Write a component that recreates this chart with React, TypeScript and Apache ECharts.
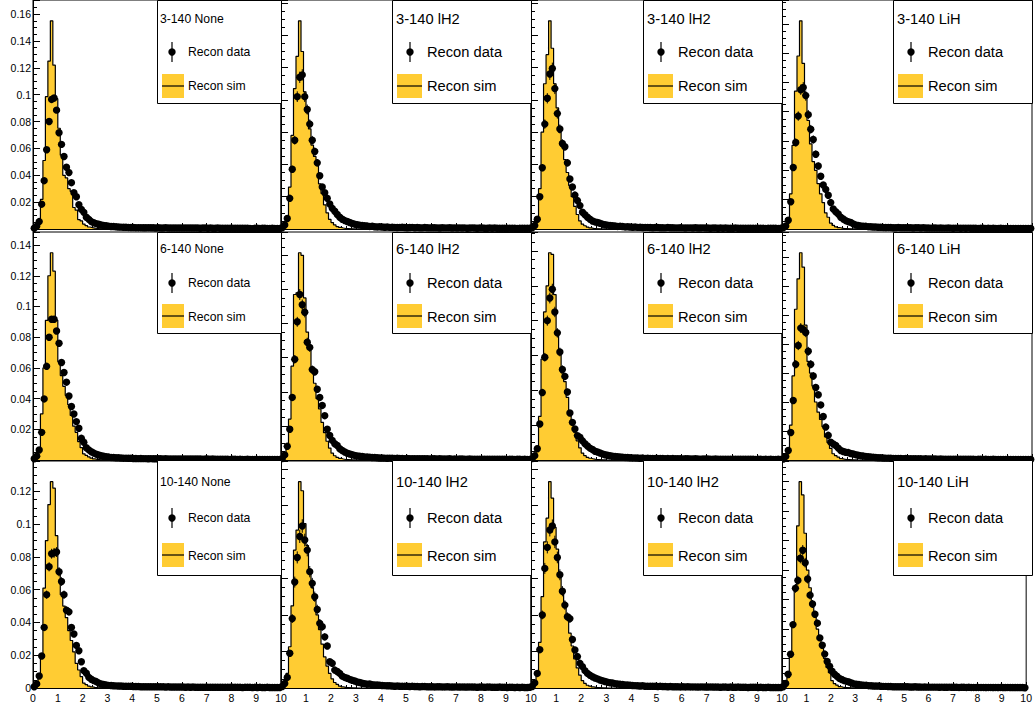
import React, { useEffect, useRef } from "react";
import * as echarts from "echarts";

const FONT = "'Liberation Sans', Arial, Helvetica, sans-serif";
const YELLOW = "#FFCC33";
const binWidth = 0.1;

const xTickLabels = ["0", "1", "2", "3", "4", "5", "6", "7", "8", "9", "10"];
const panelTitles = [
  "3-140 None", "3-140 lH2", "3-140 lH2", "3-140 LiH",
  "6-140 None", "6-140 lH2", "6-140 lH2", "6-140 LiH",
  "10-140 None", "10-140 lH2", "10-140 lH2", "10-140 LiH",
];
const legendData = "Recon data";
const legendSim = "Recon sim";

// ---- simulated histograms (bins of 0.1 from 0), rest of range empty ----
const simR1C1 = [0.0005,0.002,0.007,0.022,0.051,0.0985,0.125,0.155,0.122,0.097,0.075,0.055,0.04,0.038,0.03,0.028,0.016,0.014,0.007,0.006,0.0037,0.0025,0.0015,0.001,0.0006,0.0004,0.0002,0.0001,0,0];
const simR1C2 = [0.0005,0.002,0.008,0.026,0.058,0.087,0.107,0.129,0.11,0.085,0.072,0.062,0.052,0.045,0.04,0.028,0.022,0.015,0.01,0.006,0.004,0.0025,0.0015,0.001,0.0006,0.0003,0.0002,0.0001,0,0];
const simR1C3 = [0.0005,0.002,0.007,0.025,0.06,0.09,0.108,0.129,0.112,0.09,0.075,0.06,0.051,0.043,0.035,0.027,0.02,0.014,0.009,0.005,0.003,0.002,0.0012,0.0007,0.0004,0.0002,0.0001,0,0,0];
const simR1C4 = [0.0005,0.002,0.007,0.024,0.057,0.094,0.118,0.142,0.113,0.092,0.074,0.058,0.046,0.04,0.031,0.024,0.018,0.011,0.008,0.004,0.0025,0.0015,0.001,0.0006,0.0003,0.0002,0.0001,0,0,0];
const simR2C1 = [0.0005,0.002,0.007,0.03,0.06,0.091,0.12,0.135,0.123,0.091,0.064,0.055,0.048,0.042,0.036,0.029,0.022,0.018,0.012,0.008,0.004,0.003,0.002,0.0012,0.0007,0.0004,0.0002,0.0001,0,0];
const simR2C2 = [0.0005,0.002,0.008,0.024,0.055,0.097,0.098,0.1215,0.12,0.095,0.075,0.065,0.052,0.045,0.036,0.03,0.022,0.016,0.011,0.007,0.004,0.0025,0.0015,0.001,0.0006,0.0003,0.0002,0.0001,0,0];
const simR2C3 = [0.0005,0.002,0.008,0.025,0.058,0.085,0.1,0.119,0.118,0.095,0.072,0.062,0.05,0.045,0.036,0.028,0.021,0.016,0.011,0.007,0.004,0.0025,0.0015,0.001,0.0006,0.0003,0.0002,0.0001,0,0];
const simR2C4 = [0.0005,0.002,0.006,0.024,0.058,0.104,0.125,0.143,0.133,0.093,0.068,0.06,0.051,0.04,0.033,0.028,0.023,0.016,0.012,0.008,0.0043,0.003,0.002,0.001,0.0006,0.0003,0.0002,0.0001,0,0];
const simR3C1 = [0.0005,0.002,0.008,0.019,0.061,0.09,0.112,0.126,0.122,0.093,0.072,0.057,0.05,0.043,0.035,0.029,0.022,0.015,0.011,0.007,0.003,0.002,0.0012,0.0007,0.0004,0.0002,0.0001,0,0,0];
const simR3C2 = [0.0005,0.002,0.008,0.0226,0.045,0.0755,0.0865,0.113,0.108,0.09,0.078,0.065,0.055,0.048,0.04,0.032,0.024,0.017,0.012,0.008,0.005,0.003,0.002,0.001,0.0006,0.0003,0.0002,0.0001,0,0];
const simR3C3 = [0.0005,0.002,0.009,0.025,0.05,0.08,0.093,0.113,0.104,0.088,0.076,0.062,0.052,0.046,0.04,0.03,0.023,0.016,0.011,0.007,0.004,0.0025,0.0015,0.001,0.0006,0.0003,0.0002,0.0001,0,0];
const simR3C4 = [0.0005,0.002,0.007,0.022,0.042,0.066,0.11,0.14,0.131,0.105,0.08,0.068,0.058,0.05,0.04,0.033,0.028,0.02,0.014,0.0104,0.005,0.003,0.002,0.001,0.0006,0.0003,0.0002,0.0001,0,0];

// ---- data histograms (100 bins of 0.1 from 0 to 10) ----
const dataR1C1 = [
  0.0005,0.002,0.0055,0.0185,0.036,0.059,0.08,0.0965,0.0975,0.0885,
  0.0717,0.063,0.054,0.046,0.042,0.0345,0.027,0.024,0.018,0.0146,
  0.0124,0.0087,0.0072,0.0055,0.0047,0.004,0.0035,0.003,0.0027,0.0024,
  0.0021,0.0019,0.0018,0.0016,0.0015,0.0014,0.0013,0.0013,0.0012,0.0011,
  0.0011,0.001,0.001,0.001,0.0009,0.0009,0.001,0.0009,0.0009,0.0008,
  0.0009,0.0008,0.0008,0.0009,0.0008,0.0008,0.0007,0.0008,0.0008,0.0007,
  0.0008,0.0007,0.0007,0.0008,0.0007,0.0007,0.0007,0.0006,0.0007,0.0007,
  0.0006,0.0007,0.0006,0.0006,0.0007,0.0006,0.0006,0.0006,0.0005,0.0006,
  0.0006,0.0005,0.0006,0.0005,0.0005,0.0006,0.0005,0.0004,0.0002,0.0005,
  0.0005,0.0004,0.0005,0.0005,0.0004,0.0004,0.0005,0.0004,0.0004,0.0004,
];
const dataR1C2 = [
  0.0008,0.0025,0.0065,0.019,0.037,0.055,0.082,0.094,0.0955,0.082,
  0.074,0.065,0.055,0.048,0.041,0.033,0.026,0.0225,0.019,0.0155,
  0.0128,0.011,0.009,0.0073,0.006,0.0052,0.0046,0.004,0.0034,0.003,
  0.0026,0.0024,0.0021,0.002,0.0018,0.0016,0.0017,0.0014,0.0013,0.0014,
  0.0012,0.0011,0.0012,0.001,0.0011,0.001,0.0009,0.001,0.0011,0.0009,
  0.0008,0.0009,0.001,0.0008,0.0009,0.0008,0.0007,0.0009,0.0008,0.0007,
  0.0008,0.0008,0.0007,0.0006,0.0008,0.0007,0.0007,0.0008,0.0006,0.0007,
  0.0006,0.0007,0.0006,0.0007,0.0005,0.0006,0.0007,0.0006,0.0005,0.0006,
  0.0006,0.0005,0.0005,0.0006,0.0005,0.0006,0.0005,0.0004,0.0005,0.0005,
  0.0004,0.0005,0.0004,0.0005,0.0003,0.0004,0.0005,0.0004,0.0004,0.0005,
];
const dataR1C3 = [
  0.0008,0.0022,0.006,0.02,0.038,0.065,0.081,0.096,0.0995,0.087,
  0.0715,0.062,0.053,0.051,0.041,0.031,0.026,0.021,0.0176,0.0145,
  0.0104,0.0088,0.0073,0.006,0.005,0.0044,0.004,0.0035,0.003,0.0027,
  0.0024,0.0022,0.002,0.0019,0.0016,0.0017,0.0015,0.0013,0.0014,0.0012,
  0.0011,0.0012,0.001,0.0011,0.0009,0.001,0.001,0.0009,0.0008,0.0009,
  0.0009,0.0008,0.0008,0.0007,0.0009,0.0008,0.0008,0.0007,0.0007,0.0008,
  0.0007,0.0006,0.0007,0.0007,0.0006,0.0008,0.0006,0.0006,0.0007,0.0006,
  0.0006,0.0005,0.0006,0.0006,0.0005,0.0006,0.0005,0.0006,0.0005,0.0005,
  0.0005,0.0006,0.0004,0.0005,0.0005,0.0004,0.0005,0.0005,0.0004,0.0004,
  0.0005,0.0004,0.0004,0.0003,0.0004,0.0004,0.0005,0.0004,0.0003,0.0004,
];
const dataR1C4 = [
  0.0008,0.002,0.006,0.0186,0.042,0.059,0.077,0.095,0.0966,0.091,
  0.078,0.068,0.061,0.051,0.043,0.036,0.03,0.027,0.023,0.018,
  0.0136,0.0118,0.0102,0.008,0.0068,0.0057,0.005,0.0045,0.0035,0.0028,
  0.0024,0.0021,0.0019,0.0018,0.0016,0.0015,0.0014,0.0014,0.0012,0.0012,
  0.0011,0.001,0.0011,0.001,0.0009,0.0009,0.001,0.0008,0.0009,0.0008,
  0.0008,0.0009,0.0007,0.0008,0.0008,0.0007,0.0008,0.0007,0.0007,0.0006,
  0.0007,0.0007,0.0006,0.0007,0.0006,0.0006,0.0007,0.0006,0.0005,0.0006,
  0.0006,0.0005,0.0006,0.0005,0.0006,0.0005,0.0005,0.0005,0.0004,0.0005,
  0.0005,0.0004,0.0005,0.0004,0.0005,0.0004,0.0004,0.0005,0.0004,0.0004,
  0.0003,0.0004,0.0004,0.0004,0.0003,0.0004,0.0003,0.0004,0.0003,0.0003,
];
const dataR2C1 = [
  0.0008,0.0025,0.0065,0.018,0.0398,0.061,0.08,0.0917,0.0917,0.084,
  0.076,0.0635,0.057,0.0507,0.0417,0.0348,0.03,0.025,0.0207,0.0141,
  0.0115,0.008,0.0066,0.0054,0.0045,0.0038,0.0033,0.0028,0.0025,0.0022,
  0.0019,0.0017,0.0016,0.0015,0.0014,0.0013,0.0012,0.0012,0.0011,0.0011,
  0.001,0.001,0.0009,0.001,0.0009,0.0009,0.0008,0.0009,0.0008,0.0008,
  0.0008,0.0008,0.0007,0.0008,0.0007,0.0007,0.0007,0.0007,0.0006,0.0007,
  0.0007,0.0006,0.0006,0.0007,0.0006,0.0006,0.0006,0.0006,0.0005,0.0006,
  0.0006,0.0005,0.0006,0.0005,0.0005,0.0005,0.0005,0.0005,0.0005,0.0004,
  0.0005,0.0005,0.0004,0.0005,0.0004,0.0004,0.0005,0.0004,0.0004,0.0004,
  0.0004,0.0004,0.0003,0.0004,0.0004,0.0003,0.0004,0.0003,0.0003,0.0004,
];
const dataR2C2 = [
  0.0008,0.003,0.008,0.018,0.0367,0.059,0.081,0.097,0.091,0.0866,
  0.069,0.066,0.053,0.0517,0.0415,0.0367,0.032,0.026,0.018,0.0144,
  0.0115,0.0095,0.0085,0.0066,0.0056,0.0047,0.004,0.0035,0.0031,0.0027,
  0.0024,0.0022,0.0021,0.0018,0.0017,0.0016,0.0014,0.0015,0.0013,0.0012,
  0.0012,0.0011,0.001,0.0011,0.001,0.0009,0.001,0.0009,0.0009,0.0008,
  0.0009,0.0008,0.0008,0.0007,0.0008,0.0008,0.0007,0.0007,0.0008,0.0006,
  0.0007,0.0007,0.0006,0.0007,0.0006,0.0006,0.0006,0.0007,0.0005,0.0006,
  0.0005,0.0006,0.0006,0.0005,0.0005,0.0006,0.0005,0.0004,0.0005,0.0005,
  0.0005,0.0004,0.0005,0.0004,0.0005,0.0004,0.0004,0.0004,0.0005,0.0004,
  0.0003,0.0004,0.0004,0.0003,0.0004,0.0004,0.0003,0.0004,0.0003,0.0003,
];
const dataR2C3 = [
  0.0008,0.0025,0.0065,0.0207,0.0387,0.059,0.08,0.093,0.098,0.085,
  0.073,0.062,0.052,0.048,0.039,0.027,0.0216,0.0178,0.014,0.013,
  0.011,0.0093,0.008,0.0068,0.006,0.005,0.0046,0.004,0.0035,0.003,
  0.0027,0.0024,0.0022,0.002,0.0019,0.0017,0.0016,0.0015,0.0014,0.0013,
  0.0012,0.0012,0.0011,0.001,0.0011,0.0009,0.001,0.0009,0.0009,0.0009,
  0.0008,0.0008,0.0009,0.0007,0.0008,0.0007,0.0008,0.0007,0.0007,0.0007,
  0.0006,0.0007,0.0007,0.0006,0.0006,0.0007,0.0006,0.0005,0.0006,0.0006,
  0.0006,0.0005,0.0005,0.0006,0.0005,0.0005,0.0005,0.0005,0.0004,0.0005,
  0.0005,0.0004,0.0004,0.0005,0.0004,0.0004,0.0005,0.0004,0.0004,0.0003,
  0.0004,0.0004,0.0003,0.0004,0.0003,0.0004,0.0003,0.0003,0.0004,0.0003,
];
const dataR2C4 = [
  0.0007,0.0025,0.0066,0.019,0.041,0.066,0.079,0.091,0.09,0.088,
  0.075,0.066,0.058,0.05,0.045,0.038,0.03,0.0227,0.017,0.0123,
  0.011,0.01,0.0082,0.0066,0.0059,0.0054,0.0051,0.0045,0.0041,0.0037,
  0.0033,0.003,0.0027,0.0025,0.0022,0.002,0.0019,0.0017,0.0016,0.0015,
  0.0014,0.0013,0.0013,0.0012,0.0011,0.0011,0.001,0.001,0.0009,0.001,
  0.0009,0.0008,0.0009,0.0008,0.0008,0.0008,0.0007,0.0008,0.0007,0.0007,
  0.0007,0.0007,0.0006,0.0007,0.0006,0.0006,0.0006,0.0006,0.0006,0.0005,
  0.0006,0.0005,0.0005,0.0006,0.0005,0.0005,0.0005,0.0004,0.0005,0.0005,
  0.0004,0.0005,0.0004,0.0004,0.0005,0.0004,0.0004,0.0004,0.0004,0.0003,
  0.0004,0.0004,0.0003,0.0004,0.0003,0.0003,0.0004,0.0003,0.0003,0.0003,
];
const dataR3C1 = [
  0.0008,0.0025,0.0073,0.0195,0.037,0.057,0.074,0.082,0.0825,0.083,
  0.071,0.065,0.057,0.0475,0.0465,0.037,0.033,0.026,0.0227,0.016,
  0.0106,0.009,0.0065,0.0053,0.0045,0.0039,0.003,0.0024,0.0021,0.0018,
  0.0016,0.0015,0.0014,0.0013,0.0012,0.0012,0.0011,0.001,0.001,0.001,
  0.0009,0.0009,0.0009,0.0008,0.0008,0.0008,0.0008,0.0007,0.0008,0.0007,
  0.0007,0.0007,0.0007,0.0006,0.0007,0.0006,0.0006,0.0006,0.0006,0.0006,
  0.0006,0.0005,0.0006,0.0005,0.0006,0.0005,0.0005,0.0005,0.0005,0.0005,
  0.0005,0.0004,0.0005,0.0005,0.0004,0.0005,0.0004,0.0004,0.0004,0.0005,
  0.0004,0.0004,0.0004,0.0004,0.0003,0.0004,0.0004,0.0004,0.0003,0.0004,
  0.0003,0.0004,0.0003,0.0003,0.0004,0.0003,0.0003,0.0003,0.0003,0.0003,
];
const dataR3C2 = [
  0.0008,0.0025,0.0058,0.019,0.038,0.058,0.0715,0.083,0.0887,0.081,
  0.0755,0.0637,0.0573,0.05,0.043,0.0354,0.0336,0.028,0.023,0.0144,
  0.0135,0.0098,0.009,0.008,0.0065,0.0058,0.0053,0.0047,0.0042,0.0038,
  0.0033,0.003,0.0026,0.0024,0.0021,0.0022,0.0018,0.0017,0.0016,0.0015,
  0.0014,0.0013,0.0012,0.0012,0.0011,0.001,0.0011,0.001,0.0009,0.0009,
  0.001,0.0008,0.0009,0.0008,0.0008,0.0007,0.0008,0.0008,0.0007,0.0007,
  0.0007,0.0006,0.0007,0.0007,0.0006,0.0006,0.0007,0.0006,0.0005,0.0006,
  0.0006,0.0005,0.0006,0.0005,0.0005,0.0006,0.0005,0.0005,0.0004,0.0005,
  0.0005,0.0004,0.0005,0.0005,0.0004,0.0004,0.0004,0.0005,0.0004,0.0004,
  0.0003,0.0004,0.0004,0.0003,0.0004,0.0003,0.0004,0.0003,0.0003,0.0004,
];
const dataR3C3 = [
  0.0008,0.0028,0.008,0.021,0.04,0.0655,0.077,0.0865,0.0887,0.08,
  0.0715,0.062,0.053,0.0454,0.039,0.038,0.0266,0.0208,0.0172,0.0135,
  0.0117,0.0095,0.008,0.007,0.0062,0.0055,0.005,0.0044,0.004,0.0036,
  0.0032,0.0029,0.0027,0.0024,0.0022,0.002,0.0019,0.0017,0.0016,0.0015,
  0.0014,0.0013,0.0012,0.0011,0.0012,0.001,0.001,0.0009,0.001,0.0009,
  0.0008,0.0009,0.0008,0.0008,0.0007,0.0008,0.0007,0.0007,0.0007,0.0006,
  0.0007,0.0006,0.0007,0.0006,0.0006,0.0006,0.0005,0.0006,0.0006,0.0005,
  0.0005,0.0006,0.0005,0.0005,0.0005,0.0004,0.0005,0.0005,0.0004,0.0005,
  0.0004,0.0004,0.0005,0.0004,0.0004,0.0004,0.0003,0.0004,0.0004,0.0004,
  0.0003,0.0004,0.0003,0.0003,0.0004,0.0003,0.0003,0.0003,0.0003,0.0003,
];
const dataR3C4 = [
  0.0008,0.003,0.0093,0.0229,0.043,0.0676,0.073,0.088,0.0935,0.085,
  0.074,0.063,0.057,0.05,0.044,0.034,0.029,0.023,0.018,0.0147,
  0.0114,0.0093,0.008,0.0065,0.0058,0.005,0.0045,0.004,0.0034,0.0028,
  0.0025,0.0023,0.0021,0.0019,0.0018,0.0016,0.0015,0.0014,0.0013,0.0013,
  0.0012,0.0011,0.0011,0.001,0.001,0.0009,0.0009,0.0009,0.0008,0.0008,
  0.0008,0.0008,0.0007,0.0007,0.0008,0.0007,0.0007,0.0006,0.0007,0.0006,
  0.0006,0.0006,0.0006,0.0006,0.0005,0.0006,0.0005,0.0005,0.0006,0.0005,
  0.0005,0.0005,0.0004,0.0005,0.0005,0.0004,0.0005,0.0004,0.0004,0.0004,
  0.0004,0.0004,0.0004,0.0003,0.0004,0.0004,0.0003,0.0004,0.0003,0.0004,
  0.0003,0.0003,0.0004,0.0003,0.0003,0.0003,0.0003,0.0003,0.0003,0.0002,
];

// ---- statistical errors on data (first 20 bins; smaller ones hidden by markers) ----
const errR1C1 = [0.0002,0.0003,0.0005,0.0009,0.0012,0.0016,0.0018,0.002,0.002,0.0019,0.0017,0.0016,0.0015,0.0014,0.0013,0.0012,0.001,0.0009,0.0008,0.0007];
const errR1C2 = [0.0003,0.0006,0.0009,0.0016,0.0022,0.0027,0.0033,0.0035,0.0035,0.0033,0.0031,0.0029,0.0027,0.0025,0.0023,0.002,0.0018,0.0017,0.0015,0.0014];
const errR1C3 = [0.0003,0.0005,0.0009,0.0016,0.0022,0.0029,0.0032,0.0036,0.0036,0.0034,0.0031,0.0028,0.0026,0.0025,0.0023,0.002,0.0018,0.0016,0.0015,0.0014];
const errR1C4 = [0.0003,0.0005,0.0009,0.0016,0.0024,0.0028,0.0032,0.0035,0.0036,0.0035,0.0032,0.003,0.0028,0.0026,0.0024,0.0022,0.002,0.0019,0.0017,0.0016];
const errR2C1 = [0.0002,0.0004,0.0006,0.001,0.0014,0.0017,0.002,0.0021,0.0021,0.002,0.0019,0.0018,0.0017,0.0016,0.0014,0.0013,0.0012,0.0011,0.001,0.0009];
const errR2C2 = [0.0003,0.0006,0.0009,0.0014,0.002,0.0025,0.0029,0.0032,0.0031,0.003,0.0027,0.0026,0.0023,0.0023,0.002,0.0019,0.0018,0.0016,0.0014,0.0012];
const errR2C3 = [0.0003,0.0005,0.0008,0.0015,0.002,0.0025,0.0029,0.0031,0.0032,0.003,0.0027,0.0025,0.0023,0.0022,0.002,0.0017,0.0015,0.0014,0.0012,0.0011];
const errR2C4 = [0.0003,0.0006,0.001,0.0016,0.0023,0.0029,0.0032,0.0034,0.0034,0.0033,0.0031,0.0029,0.0027,0.0025,0.0023,0.0021,0.0019,0.0017,0.0015,0.0013];
const errR3C1 = [0.0003,0.0005,0.0009,0.0014,0.002,0.0025,0.0028,0.003,0.003,0.003,0.0028,0.0026,0.0025,0.0023,0.0022,0.002,0.0019,0.0017,0.0015,0.0013];
const errR3C2 = [0.0003,0.0006,0.0009,0.0017,0.0024,0.003,0.0033,0.0036,0.0037,0.0035,0.0034,0.0031,0.003,0.0028,0.0026,0.0023,0.0022,0.002,0.0018,0.0015];
const errR3C3 = [0.0003,0.0006,0.001,0.0017,0.0024,0.003,0.0033,0.0035,0.0036,0.0034,0.0032,0.003,0.0028,0.0026,0.0024,0.0024,0.002,0.0018,0.0016,0.0014];
const errR3C4 = [0.0003,0.0006,0.001,0.0017,0.0024,0.003,0.0031,0.0034,0.0035,0.0033,0.0031,0.0029,0.0027,0.0025,0.0024,0.0021,0.0019,0.0017,0.0015,0.0013];

const panels = [
  { title: panelTitles[0], sim: simR1C1, data: dataR1C1, err: errR1C1 },
  { title: panelTitles[1], sim: simR1C2, data: dataR1C2, err: errR1C2 },
  { title: panelTitles[2], sim: simR1C3, data: dataR1C3, err: errR1C3 },
  { title: panelTitles[3], sim: simR1C4, data: dataR1C4, err: errR1C4 },
  { title: panelTitles[4], sim: simR2C1, data: dataR2C1, err: errR2C1 },
  { title: panelTitles[5], sim: simR2C2, data: dataR2C2, err: errR2C2 },
  { title: panelTitles[6], sim: simR2C3, data: dataR2C3, err: errR2C3 },
  { title: panelTitles[7], sim: simR2C4, data: dataR2C4, err: errR2C4 },
  { title: panelTitles[8], sim: simR3C1, data: dataR3C1, err: errR3C1 },
  { title: panelTitles[9], sim: simR3C2, data: dataR3C2, err: errR3C2 },
  { title: panelTitles[10], sim: simR3C3, data: dataR3C3, err: errR3C3 },
  { title: panelTitles[11], sim: simR3C4, data: dataR3C4, err: errR3C4 },
];

// ---- layout (pixels) ----
const colLeft = [33, 281, 531, 782];
const colRight = [281, 531, 782, 1032];
const rowTop = [0, 232, 461];
const rowBottom = [229, 460, 688];
const legendRow = [
  { top: 0, h: 103, title: 19, data: 52, sim: 86, rect: 74 },
  { top: 232, h: 101, title: 17, data: 51, sim: 85, rect: 72 },
  { top: 460, h: 115, title: 22, data: 58, sim: 96, rect: 83 },
];
const MARKER_R = 3.7;

function buildOption() {
  const grid: any[] = [];
  const xAxis: any[] = [];
  const yAxis: any[] = [];
  const series: any[] = [];
  const graphic: any[] = [];

  panels.forEach((p, k) => {
    const r = Math.floor(k / 4);
    const c = k % 4;
    grid.push({
      left: colLeft[c],
      top: rowTop[r],
      width: colRight[c] - colLeft[c],
      height: rowBottom[r] - rowTop[r],
      show: true,
      borderColor: "#000",
      borderWidth: 1,
      backgroundColor: "transparent",
    });
    xAxis.push({
      type: "value",
      gridIndex: k,
      min: 0,
      max: 10,
      interval: 1,
      axisLine: { show: true, onZero: false, lineStyle: { color: "#000", width: 1 } },
      axisTick: { show: true, inside: true, length: 6, lineStyle: { color: "#000", width: 1 } },
      minorTick: { show: true, splitNumber: 5, length: 3, lineStyle: { color: "#000", width: 1 } },
      splitLine: { show: false },
      axisLabel: {
        show: r === 2,
        margin: 4,
        fontSize: 10.5,
        fontFamily: FONT,
        color: "#000",
        showMinLabel: c === 0,
        showMaxLabel: true,
        formatter: (v: number) => xTickLabels[Math.round(v)] ?? "",
      },
    });
    const ymax = Math.max(...p.sim) * 1.1;
    yAxis.push({
      type: "value",
      gridIndex: k,
      min: 0,
      max: ymax,
      interval: 0.02,
      axisLine: { show: true, onZero: false, lineStyle: { color: "#000", width: 1 } },
      axisTick: { show: true, inside: true, length: 7, lineStyle: { color: "#000", width: 1 } },
      minorTick: { show: true, splitNumber: 4, length: 4, lineStyle: { color: "#000", width: 1 } },
      splitLine: { show: false },
      axisLabel: {
        show: c === 0,
        margin: 2,
        fontSize: 10.5,
        fontFamily: FONT,
        color: "#000",
        showMaxLabel: false,
        showMinLabel: r === 2,
        formatter: (v: number) => String(Math.round(v * 1000) / 1000),
      },
    });

    const simPts: number[][] = [[0, 0]];
    p.sim.forEach((v, i) => simPts.push([Number((i * binWidth).toFixed(1)), v]));
    simPts.push([Number((p.sim.length * binWidth).toFixed(1)), 0]);
    series.push({
      type: "line",
      xAxisIndex: k,
      yAxisIndex: k,
      step: "end",
      symbol: "none",
      data: simPts,
      lineStyle: { color: "#000", width: 1.2 },
      areaStyle: { color: YELLOW, opacity: 1 },
      z: 2,
      silent: true,
    });

    const dataPts = p.data.map((v, i) => [
      Number(((i + 0.5) * binWidth).toFixed(2)),
      v,
      p.err[i] ?? 0,
    ]);
    series.push({
      type: "custom",
      xAxisIndex: k,
      yAxisIndex: k,
      coordinateSystem: "cartesian2d",
      clip: false,
      z: 3,
      silent: true,
      encode: { x: 0, y: 1 },
      data: dataPts,
      renderItem: (params: any, api: any) => {
        const x = api.value(0);
        const y = api.value(1);
        const e = api.value(2);
        const pt = api.coord([x, y]);
        const children: any[] = [];
        if (e > 0) {
          const t = api.coord([x, y + e]);
          const b = api.coord([x, Math.max(0, y - e)]);
          children.push({
            type: "line",
            shape: { x1: pt[0], y1: t[1], x2: pt[0], y2: b[1] },
            style: { stroke: "#000", lineWidth: 1 },
          });
        }
        children.push({
          type: "circle",
          shape: { cx: pt[0], cy: pt[1], r: MARKER_R },
          style: { fill: "#000" },
        });
        return { type: "group", children };
      },
    });

    // legend box
    const L = legendRow[r];
    const bw = c === 0 ? 124 : 139;
    const bx = colRight[c] - bw;
    const by = L.top;
    const fsTitle = c === 0 ? 12.2 : 14.7;
    const fsEntry = c === 0 ? 12.2 : 14.7;
    const dxTitle = c === 0 ? 3 : 4;
    const dxMarker = c === 0 ? 15 : 18;
    const dxText = c === 0 ? 31 : 35;
    const rectW = c === 0 ? 22 : 25;
    const textEl = (text: string, x: number, y: number, fs: number) => ({
      type: "text",
      z: 101,
      x,
      y,
      style: {
        text,
        fill: "#000",
        fontSize: fs,
        fontFamily: FONT,
        textAlign: "left",
        align: "left",
        textVerticalAlign: "middle",
        verticalAlign: "middle",
      },
    });
    graphic.push({
      type: "rect",
      z: 100,
      shape: { x: bx + 0.5, y: by + 0.5, width: bw, height: L.h },
      style: { fill: "#fff", stroke: "#000", lineWidth: 1 },
    });
    graphic.push(textEl(p.title, bx + dxTitle, by + L.title, fsTitle));
    graphic.push({
      type: "line",
      z: 101,
      shape: { x1: bx + dxMarker, y1: by + L.data - 10, x2: bx + dxMarker, y2: by + L.data + 10 },
      style: { stroke: "#000", lineWidth: 1.2 },
    });
    graphic.push({
      type: "circle",
      z: 101,
      shape: { cx: bx + dxMarker, cy: by + L.data, r: MARKER_R },
      style: { fill: "#000" },
    });
    graphic.push(textEl(legendData, bx + dxText, by + L.data, fsEntry));
    graphic.push({
      type: "rect",
      z: 101,
      shape: { x: bx + 5, y: by + L.rect, width: rectW, height: 24 },
      style: { fill: YELLOW },
    });
    graphic.push({
      type: "line",
      z: 102,
      shape: { x1: bx + 5, y1: by + L.rect + 12, x2: bx + 5 + rectW, y2: by + L.rect + 12 },
      style: { stroke: "#000", lineWidth: 1.2 },
    });
    graphic.push(textEl(legendSim, bx + dxText, by + L.sim, fsEntry));
  });

  return {
    animation: false,
    backgroundColor: "#fff",
    grid,
    xAxis,
    yAxis,
    series,
    graphic: { elements: graphic },
  };
}

export default function App() {
  const ref = useRef<HTMLDivElement>(null);
  useEffect(() => {
    if (!ref.current) return;
    const chart = echarts.init(ref.current, undefined, { renderer: "svg" });
    chart.setOption(buildOption() as any);
    return () => chart.dispose();
  }, []);
  return (
    <div
      ref={ref}
      style={{ position: "absolute", left: 0, top: 0, width: 1035, height: 710, background: "#fff" }}
    />
  );
}
